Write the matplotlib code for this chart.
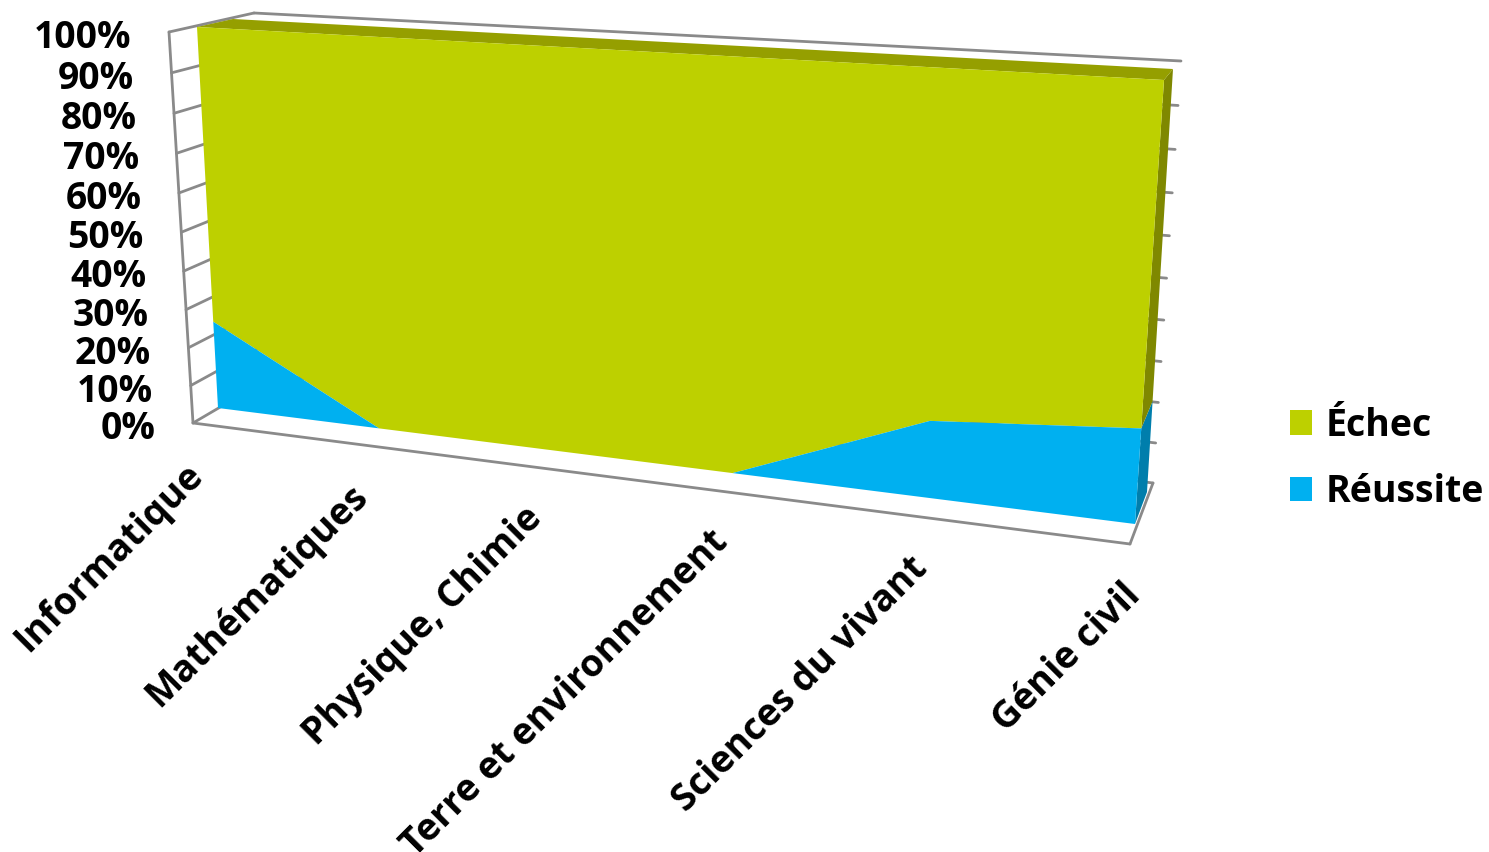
#!/usr/bin/env python3
# -*- coding: utf-8 -*-
import numpy as np
import matplotlib
matplotlib.use('Agg')
import matplotlib.pyplot as plt
from matplotlib.patches import Patch, Polygon

# data
categories = ['Informatique', 'Mathématiques', 'Physique, Chimie',
              'Terre et environnement', 'Sciences du vivant', 'Génie civil']
reussite = [23.5, 0, 0, 0, 18.7, 22.5]
echec = [76.5, 100, 100, 100, 81.3, 77.5]
pct_ticks = [0, 10, 20, 30, 40, 50, 60, 70, 80, 90, 100]

LIME = '#BDD000'
LIME_TOP = '#959F00'
LIME_SIDE = '#7F8800'
BLUE = '#00B0F0'
BLUE_SIDE = '#007EAC'
GREY = '#8A8A8A'
FONT = 'Open Sans'


def plane(p00, p10, p11, p01):
    """Homography: (share along categories, share of height) -> pixel."""
    src = [(0, 0), (1, 0), (1, 1), (0, 1)]
    dst = [p00, p10, p11, p01]
    a, b = [], []
    for (u, v), (x, y) in zip(src, dst):
        a.append([u, v, 1, 0, 0, 0, -u*x, -v*x])
        a.append([0, 0, 0, u, v, 1, -u*y, -v*y])
        b += [x, y]
    h = np.append(np.linalg.solve(np.array(a, float), np.array(b, float)), 1).reshape(3, 3)

    def project(u, v):
        x, y, w = h @ np.array([u, v/100, 1.0])
        return x/w, y/w
    return project


# the four depth planes of the 3D box
frame_front = plane((193, 423), (1130, 544), (1157, 86), (169, 32))
area_front = plane((218, 408), (1135, 524), (1164, 80), (197, 27))
area_back = plane((258, 385), (1147, 492), (1173, 69), (233, 19))
frame_back = plane((275, 375), (1153, 483), (1181, 61), (254, 13))

fig = plt.figure(figsize=(14.89, 8.52), dpi=100)
ax = fig.add_axes([0, 0, 1, 1])
ax.set_xlim(0, 1489)
ax.set_ylim(852, 0)
ax.axis('off')

n = len(categories) - 1
u = [i/n for i in range(n + 1)]
tops = [r + e for r, e in zip(reussite, echec)]


def line(a, b):
    ax.plot([a[0], b[0]], [a[1], b[1]], color=GREY, lw=2.0, solid_capstyle='round', zorder=1)


# walls and floor
for p in pct_ticks:
    line(frame_front(0, p), frame_back(0, p))
    line(frame_back(0, p), frame_back(1, p))
line(frame_front(0, 0), frame_front(0, 100))
line(frame_front(0, 0), frame_front(1, 0))
line(frame_front(1, 0), frame_back(1, 0))

# area, side and top faces
ax.add_patch(Polygon([area_front(1, 0), area_back(1, 0), area_back(1, reussite[-1]), area_front(1, reussite[-1])],
                     fc=BLUE_SIDE, lw=0, zorder=2))
ax.add_patch(Polygon([area_front(1, reussite[-1]), area_back(1, reussite[-1]), area_back(1, tops[-1]), area_front(1, tops[-1])],
                     fc=LIME_SIDE, lw=0, zorder=2))
ax.add_patch(Polygon([area_front(0, 100), area_back(0, 100), area_back(1, 100), area_front(1, 100)],
                     fc=LIME_TOP, lw=0, zorder=2))
lower = [area_front(a, b) for a, b in zip(u, reussite)]
upper = [area_front(a, b) for a, b in zip(u, tops)]
ax.add_patch(Polygon(lower + upper[::-1], fc=LIME, lw=0, zorder=3))
base = [area_front(a, 0) for a in u]
ax.add_patch(Polygon(base + lower[::-1], fc=BLUE, lw=0, zorder=4))

# tick labels
for p in pct_ticks:
    x, y = frame_front(0, p)
    ax.text(x - 37.5, y + 6, '%d%%' % p, ha='right', va='center', family=FONT,
            fontweight='bold', fontsize=26.8, color='black')
for a, name in zip(u, categories):
    x, y = frame_front(a, 0)
    ax.text(x + 5, y + 46, name, ha='right', va='center', rotation=45, rotation_mode='anchor',
            family=FONT, fontweight='bold', fontsize=27, color='black')

# legend
handles = [Patch(fc=LIME, lw=0), Patch(fc=BLUE, lw=0)]
ax.legend(handles, ['Échec', 'Réussite'], loc='upper left', bbox_to_anchor=(1256, 373),
          bbox_transform=ax.transData, frameon=False, handlelength=0.6, handleheight=0.62,
          handletextpad=0.35, labelspacing=0.76,
          prop={'family': FONT, 'weight': 'bold', 'size': 27})

fig.savefig('out.png', dpi=100)
